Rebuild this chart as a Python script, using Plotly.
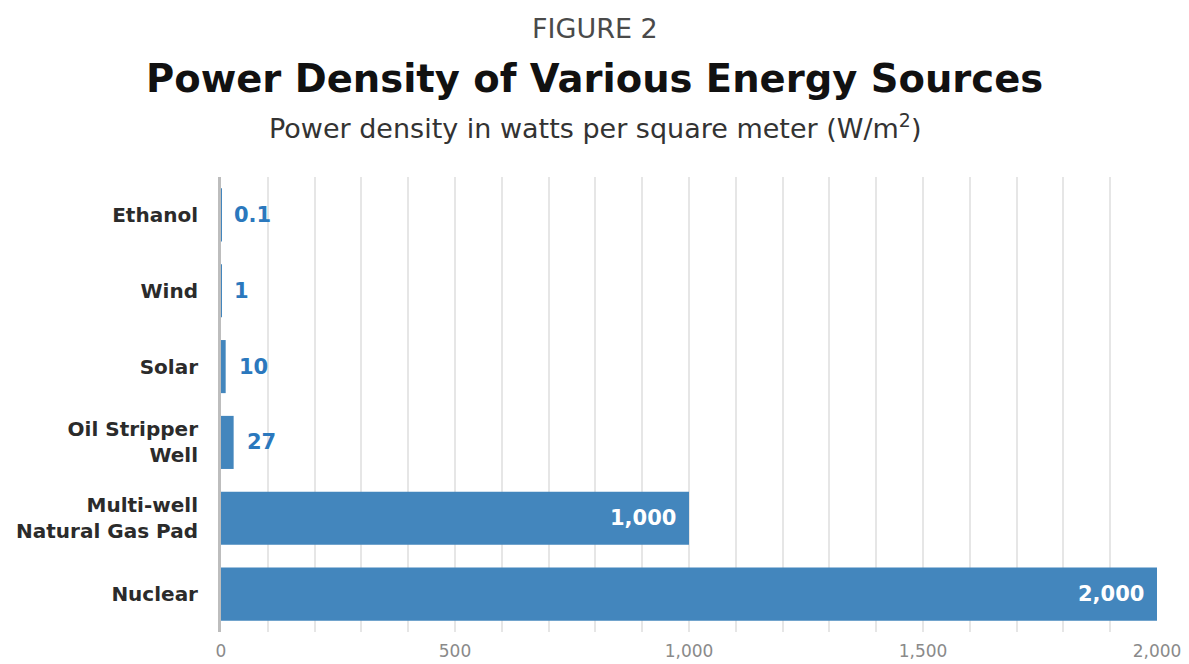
import plotly.graph_objects as go

categories = ["Ethanol", "Wind", "Solar", "Oil Stripper<br>Well", "Multi-well<br>Natural Gas Pad", "Nuclear"]
values = [0.1, 1, 10, 27, 1000, 2000]
major_step = 500
minor_step = 100

bar_color = "#4386bd"
label_blue = "#2b78bd"
bold_font = "DejaVu Sans, sans-serif"
light_font = "DejaVu Sans, sans-serif"

# page has an 8px body margin; compensate so the plot lands where the reference has it
OFF = 8
W, H = 1189 - OFF, 664 - OFF
L, R, T, B = 221 - OFF, 32, 177 - OFF, 32
T_PAGE = 177
center_x = (1189 / 2 - OFF - L) / (W - L - R)

fig = go.Figure()
fig.add_trace(go.Bar(
    y=categories, x=values, orientation="h",
    marker=dict(color=bar_color, line=dict(width=0)),
    hoverinfo="skip",
))

for c, v in zip(categories, values):
    inside = v >= 500
    fig.add_annotation(
        x=v, y=c, xref="x", yref="y",
        text=f"<b>{v:,g}</b>",
        showarrow=False,
        xanchor="right" if inside else "left",
        xshift=-11 if inside else 11,
        font=dict(family=bold_font, size=21, color="white" if inside else label_blue),
    )

fig.add_annotation(
    x=center_x, y=1, xref="paper", yref="paper", xanchor="center", yanchor="middle",
    yshift=T_PAGE - 28, text="FIGURE 2", showarrow=False,
    font=dict(family=light_font, size=27, color="#4a4a4a"),
)
fig.add_annotation(
    x=center_x, y=1, xref="paper", yref="paper", xanchor="center", yanchor="middle",
    yshift=T_PAGE - 78, text="<b>Power Density of Various Energy Sources</b>", showarrow=False,
    font=dict(family=bold_font, size=38.5, color="#111111"),
)
fig.add_annotation(
    x=center_x, y=1, xref="paper", yref="paper", xanchor="center", yanchor="middle",
    yshift=T_PAGE - 126, text="Power density in watts per square meter (W/m<sup>2</sup>)", showarrow=False,
    font=dict(family=light_font, size=27, color="#333333"),
)

fig.update_layout(
    width=W, height=H,
    paper_bgcolor="white", plot_bgcolor="white",
    margin=dict(l=L, r=R, t=T, b=B),
    bargap=0.3,
    showlegend=False,
    xaxis=dict(
        range=[0, 2000],
        dtick=major_step, tick0=0, tickformat=",d",
        showgrid=True, gridcolor="#e6e6e6", gridwidth=1.5,
        minor=dict(dtick=minor_step, tick0=0, showgrid=True, gridcolor="#e6e6e6", gridwidth=1.5),
        zeroline=False, showline=False,
        ticks="", ticklabelstandoff=7,
        tickfont=dict(family=light_font, size=17, color="#8a8a8a"),
        automargin=False,
        fixedrange=True,
    ),
    yaxis=dict(
        categoryorder="array", categoryarray=categories[::-1],
        autorange=False, range=[-0.5, 5.5],
        showline=True, linecolor="#bdbdbd", linewidth=3,
        showgrid=False, zeroline=False,
        ticks="", ticklabelstandoff=16,
        tickfont=dict(family=bold_font, size=20, color="#2b2b2b", weight="bold"),
        automargin=False,
    ),
)

fig.write_html("out.html")
